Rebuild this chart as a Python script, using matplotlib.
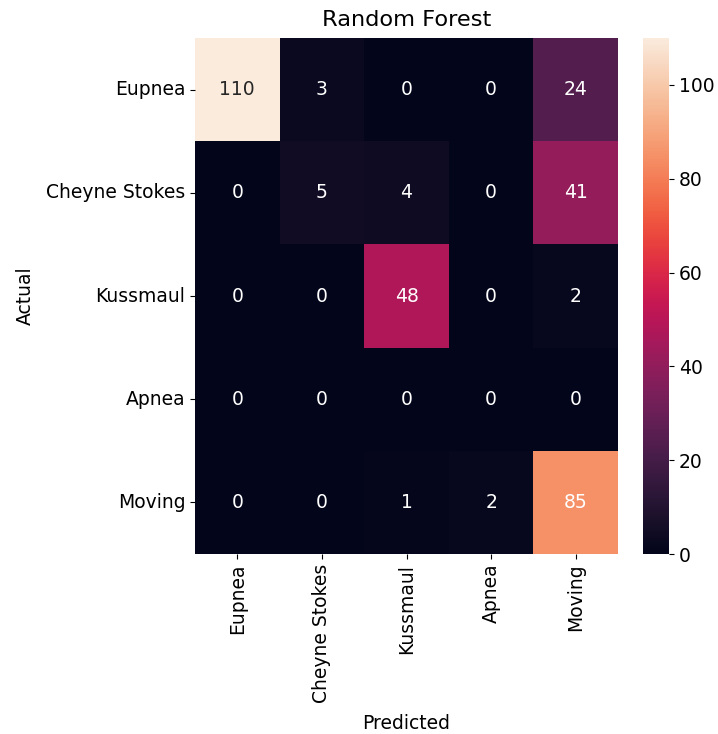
import numpy as np
import matplotlib
matplotlib.use("Agg")
import matplotlib.pyplot as plt
import seaborn as sns

labels = ["Eupnea", "Cheyne Stokes", "Kussmaul", "Apnea", "Moving"]
counts = [
    [110, 3, 0, 0, 24],
    [0, 5, 4, 0, 41],
    [0, 0, 48, 0, 2],
    [0, 0, 0, 0, 0],
    [0, 0, 1, 2, 85],
]

plt.rcParams["font.family"] = ["DejaVu Sans"]
plt.rcParams["font.size"] = 13.5

fig = plt.figure(figsize=(7.18, 7.34), dpi=100)
ax = fig.add_axes([195 / 718, 1 - 554 / 734, 423 / 718, 516 / 734])
cax = fig.add_axes([643 / 718, 1 - 554 / 734, 26 / 718, 516 / 734])

sns.heatmap(np.array(counts), annot=True, fmt="d", cmap="rocket",
            vmin=0, vmax=110,
            xticklabels=labels, yticklabels=labels, ax=ax, cbar_ax=cax,
            annot_kws={"size": 13.5})
ax.set_title("Random Forest", fontsize=16.2, pad=9)
ax.set_xlabel("Predicted", fontsize=13.5, labelpad=8)
ax.set_ylabel("Actual", fontsize=13.5, labelpad=8)
ax.tick_params(axis="x", rotation=90, labelsize=13.5)
ax.tick_params(axis="y", rotation=0, labelsize=13.5)
cax.tick_params(labelsize=13.5)

fig.savefig("out.png", dpi=100)
